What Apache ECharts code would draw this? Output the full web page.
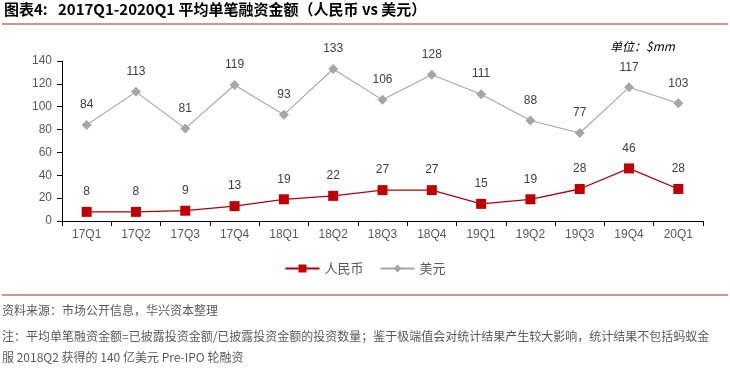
<!DOCTYPE html>
<html><head><meta charset="utf-8">
<script src="https://cdn.jsdelivr.net/npm/echarts@6/dist/echarts.min.js"></script>
<style>html,body{margin:0;padding:0;background:#fff}#c{width:730px;height:369px}</style>
</head><body><div id="c"></div>
<script>
var categories = ['17Q1','17Q2','17Q3','17Q4','18Q1','18Q2','18Q3','18Q4','19Q1','19Q2','19Q3','19Q4','20Q1'];
var rmbValues = [8,8,9,13,19,22,27,27,15,19,28,46,28];
var usdValues = [84,113,81,119,93,133,106,128,111,88,77,117,103];
var yTicks = {min:0, max:140, interval:20};
var titleText = '图表4:   2017Q1-2020Q1 平均单笔融资金额（人民币 vs 美元）';
var unitText = '单位：$mm';
var sourceText = '资料来源：市场公开信息，华兴资本整理';
var noteLine1 = '注：平均单笔融资金额=已披露投资金额/已披露投资金额的投资数量；鉴于极端值会对统计结果产生较大影响，统计结果不包括蚂蚁金';
var noteLine2 = '服 2018Q2 获得的 140 亿美元 Pre-IPO 轮融资';

var font = '"Noto Sans CJK SC", "Noto Sans", sans-serif';
var chart = echarts.init(document.getElementById('c'));
chart.setOption({
  animation:false,
  textStyle:{fontFamily:font},
  grid:{left:62,right:27,top:61,bottom:148},
  legend:{
    top:257,left:'center',itemGap:16,itemWidth:34,itemHeight:10,
    textStyle:{color:'#595959',fontSize:13,fontFamily:font},
    data:['人民币','美元']
  },
  xAxis:{
    type:'category',data:categories,boundaryGap:true,
    axisLine:{lineStyle:{color:'#000',width:1}},
    axisTick:{show:true,alignWithLabel:false,length:5,lineStyle:{color:'#000'}},
    axisLabel:{color:'#595959',fontSize:12,fontFamily:'Liberation Sans, Arial',margin:8}
  },
  yAxis:{
    type:'value',min:yTicks.min,max:yTicks.max,interval:yTicks.interval,
    axisLine:{show:true,lineStyle:{color:'#000',width:1}},
    axisTick:{show:true,length:5,lineStyle:{color:'#000'}},
    splitLine:{show:false},
    axisLabel:{color:'#595959',fontSize:12,fontFamily:'Liberation Sans, Arial',margin:10}
  },
  series:[
    {name:'人民币',type:'line',data:rmbValues,symbol:'rect',symbolSize:10,
     lineStyle:{color:'#B00010',width:1.3},itemStyle:{color:'#C00000'},
     label:{show:true,position:'top',distance:9,color:'#404040',fontSize:12,fontFamily:'Liberation Sans, Arial'}},
    {name:'美元',type:'line',data:usdValues,symbol:'diamond',symbolSize:10,
     lineStyle:{color:'#A6A6A6',width:1.1},itemStyle:{color:'#A6A6A6'},
     label:{show:true,position:'top',distance:9,color:'#404040',fontSize:12,fontFamily:'Liberation Sans, Arial'}}
  ],
  graphic:[
    {type:'text',left:4,top:2,style:{text:titleText,font:'bold 15px '+font,fill:'#000'}},
    {type:'line',shape:{x1:2,y1:24,x2:728,y2:24},style:{stroke:'#B22222',lineWidth:1}},
    {type:'text',left:610,top:40,style:{text:unitText,font:'italic 12px '+font,fill:'#000'}},
    {type:'line',shape:{x1:2,y1:295,x2:728,y2:295},style:{stroke:'#B22222',lineWidth:1}},
    {type:'text',left:2,top:304,style:{text:sourceText,font:'12px '+font,fill:'#595959'}},
    {type:'text',left:2,top:330,style:{text:noteLine1,font:'12px '+font,fill:'#595959'}},
    {type:'text',left:2,top:351,style:{text:noteLine2,font:'12px '+font,fill:'#595959'}}
  ]
});
</script></body></html>
